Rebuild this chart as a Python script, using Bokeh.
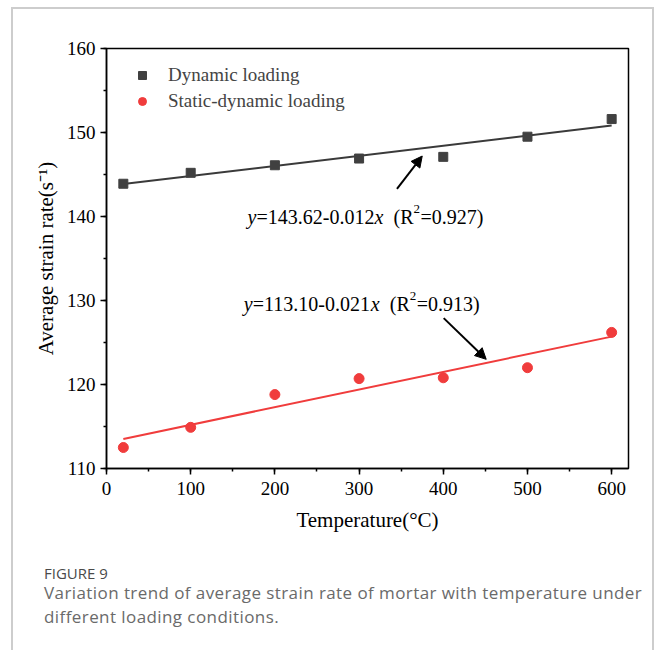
from bokeh.plotting import figure
from bokeh.layouts import column
from bokeh.models import (Legend, LegendItem, Label, Arrow, NormalHead, Div,
                          Range1d, SingleIntervalTicker)
from bokeh.embed import file_html
from bokeh.resources import INLINE

# ---- data ----
temperature = [20, 100, 200, 300, 400, 500, 600]
dynamic_rate = [143.9, 145.2, 146.1, 146.9, 147.1, 149.5, 151.6]
static_dynamic_rate = [112.5, 114.9, 118.8, 120.7, 120.8, 122.0, 126.2]
fit_x = [20, 600]
dyn_intercept, dyn_slope = 143.62, 0.012
sd_intercept, sd_slope = 113.10, 0.021
x_ticks_step = 100
y_ticks_step = 10
caption_title = "FIGURE 9"
caption_lines = ["Variation trend of average strain rate of mortar with temperature under",
                 "different loading conditions."]

SERIF = "Liberation Serif"
DARK = "#404040"
RED = "#f03c3c"
CONTENT_W = 639

p = figure(width=CONTENT_W, height=531, x_range=Range1d(0, 620), y_range=Range1d(110, 160),
           output_backend="svg", toolbar_location=None,
           min_border_left=93, min_border_right=24, min_border_top=39, min_border_bottom=72)

p.background_fill_color = "white"
p.border_fill_color = "white"
p.outline_line_color = "black"
p.outline_line_width = 1.5
p.xgrid.visible = False
p.ygrid.visible = False

# axes
p.xaxis.ticker = SingleIntervalTicker(interval=x_ticks_step, num_minor_ticks=2)
p.yaxis.ticker = SingleIntervalTicker(interval=y_ticks_step, num_minor_ticks=2)
for ax in (p.xaxis[0], p.yaxis[0]):
    ax.axis_line_color = "black"
    ax.axis_line_width = 1.5
    ax.major_tick_line_color = "black"
    ax.major_tick_line_width = 1.5
    ax.minor_tick_line_color = "black"
    ax.minor_tick_line_width = 1.5
    ax.major_tick_out = 6
    ax.major_tick_in = 0
    ax.minor_tick_out = 3
    ax.minor_tick_in = 0
    ax.major_label_text_font = SERIF
    ax.major_label_text_font_size = "19px"
    ax.major_label_text_color = "black"
    ax.axis_label_text_font = SERIF
    ax.axis_label_text_font_size = "21px"
    ax.axis_label_text_font_style = "normal"
    ax.axis_label_text_color = "black"
p.xaxis.axis_label = "Temperature(°C)"
p.yaxis.axis_label = "Average strain rate(s⁻¹)"
p.xaxis.major_label_standoff = 7
p.yaxis.major_label_standoff = 5
p.xaxis.axis_label_standoff = 10
p.yaxis.axis_label_standoff = 6

# fit lines
dyn_fit = [dyn_intercept + dyn_slope * x for x in fit_x]
sd_fit = [sd_intercept + sd_slope * x for x in fit_x]
p.line(fit_x, dyn_fit, line_color="#3a3a3a", line_width=2)
p.line(fit_x, sd_fit, line_color=RED, line_width=2)

# points
r1 = p.scatter(temperature, dynamic_rate, marker="square", size=9,
               fill_color=DARK, line_color=DARK)
r2 = p.scatter(temperature, static_dynamic_rate, marker="circle", size=10,
               fill_color=RED, line_color=RED)

legend = Legend(items=[LegendItem(label="Dynamic loading", renderers=[r1]),
                       LegendItem(label="Static-dynamic loading", renderers=[r2])],
                location="top_left", margin=16, padding=0, spacing=4,
                glyph_width=40, glyph_height=20, label_height=20, label_standoff=6,
                label_text_font=SERIF, label_text_font_size="19px",
                background_fill_alpha=0, border_line_alpha=0)
p.add_layout(legend)

# equation labels (pieces for italic / superscript)
def equation(x, y, body, r2):
    pieces = [("y", 0, 0, "italic", "20px"),
              (body, 9, 0, "normal", "20px"),
              ("x", 127, 0, "italic", "20px"),
              ("(R", 146, 0, "normal", "20px"),
              ("2", 166, 8, "normal", "13px"),
              ("=" + r2 + ")", 173, 0, "normal", "20px")]
    for txt, dx, dy, style, size in pieces:
        p.add_layout(Label(x=x, y=y, x_offset=dx, y_offset=dy, text=txt,
                           text_font=SERIF, text_font_size=size, text_font_style=style,
                           text_color="black", text_baseline="alphabetic", text_align="left"))

equation(167.5, 140.0, "=143.62-0.012", "0.927")
equation(163.0, 129.6, "=113.10-0.021", "0.913")

# arrows
p.add_layout(Arrow(end=NormalHead(size=11, fill_color="black", line_color="black"),
                   x_start=345, y_start=143.3, x_end=375, y_end=147.2,
                   line_color="black", line_width=2))
p.add_layout(Arrow(end=NormalHead(size=11, fill_color="black", line_color="black"),
                   x_start=400.5, y_start=127.9, x_end=451, y_end=123.0,
                   line_color="black", line_width=2))

# ---- caption ----
span = ("position:absolute;left:31px;white-space:nowrap;margin:0;padding:0;")
cap_html = (
    "<div style=\"position:relative;width:639px;height:120px;margin:0;padding:0;"
    "font-family:'Open Sans',sans-serif;\">"
    f"<span style=\"{span}top:26px;font-size:15px;line-height:15px;color:#4a4a4a;\">{caption_title}</span>"
    f"<span style=\"{span}top:44px;font-size:17px;line-height:17px;letter-spacing:0.42px;color:#6a6a6a;\">{caption_lines[0]}</span>"
    f"<span style=\"{span}top:68px;font-size:17px;line-height:17px;letter-spacing:0.42px;color:#6a6a6a;\">{caption_lines[1]}</span>"
    "</div>"
)
cap = Div(text=cap_html, width=CONTENT_W, height=120, margin=0)

layout = column(p, cap, spacing=0,
                styles={"margin-left": "11px", "margin-top": "7px",
                        "border-left": "2px solid #cdcdcd", "border-right": "2px solid #cdcdcd",
                        "border-top": "2px solid #cdcdcd"})

open("out.html", "w").write(file_html(layout, INLINE))
